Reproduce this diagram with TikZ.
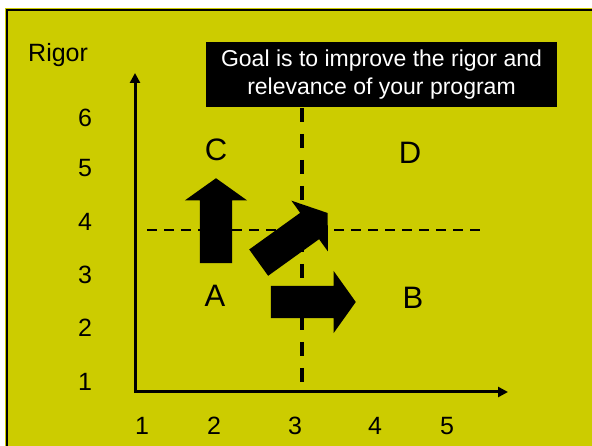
\documentclass[tikz,border=0pt]{standalone}
\usepackage{fontspec}
\setmainfont{Liberation Sans}
\usepackage{tikz}
\usetikzlibrary{arrows.meta,positioning,shapes.arrows}
\definecolor{slideyellow}{RGB}{204,204,0}

\begin{document}
\begin{tikzpicture}[
    x=1pt,
    y=-1pt,
    >={Triangle[length=10pt,width=10pt]},
    ticklabel/.style={
        inner sep=0pt,
        font=\fontsize{25}{30}\selectfont
    },
    quadlabel/.style={
        inner sep=0pt,
        font=\fontsize{31}{36}\selectfont
    },
    blockarrow/.style={
        single arrow,
        fill=black,
        draw=none,
        inner xsep=0pt,
        inner ysep=16pt,
        minimum height=85pt,
        minimum width=62pt,
        single arrow head extend=15pt,
        single arrow tip angle=109
    }
]

\useasboundingbox (0,0) rectangle (592,446);

% Slide background and frame
\fill[slideyellow] (5,8) rectangle (592,446);
\draw[line width=2.5pt] (7,446) -- (7,10) -- (592,10);

% Goal box
\node[
    fill=black,
    text=white,
    minimum width=351pt,
    minimum height=65pt,
    inner sep=0pt,
    align=center,
    font=\fontsize{23}{28}\selectfont
] (goal)
at (381.5,74.5)
{
Goal is to improve the rigor and\\
relevance of your program
};

% Axis name
\node[
    anchor=base west,
    inner sep=0pt,
    font=\fontsize{25}{30}\selectfont
] (rigor)
at (28,62)
{Rigor};

% Tick labels
\foreach \n/\y in {6/118,5/168,4/222,3/275,2/328,1/382}
    \node[ticklabel] (y\n) at (85,\y) {\n};
\foreach \n/\x in {1/142,2/214,3/295,4/375,5/447}
    \node[ticklabel] (x\n) at (\x,426) {\n};

% Axes
\coordinate (origin) at (135,392);
\coordinate (ytop) at (135,73);
\coordinate (xend) at (508,392);
\draw[
    <->,
    line width=3pt
]
(ytop) -- (origin) -- (xend);

% Quadrant dividers
\coordinate (vtop) at (302,108);
\coordinate (vbot) at (302,382);
\coordinate (hleft) at (147,230);
\coordinate (hright) at (487,230);
\draw[
    line width=4pt,
    dash pattern=on 14pt off 12pt
]
(vtop) -- (vbot);
\draw[
    line width=2.7pt,
    dash pattern=on 10pt off 7pt
]
(hleft) -- (hright);

% Quadrants
\node[quadlabel] (qc) at (216,150) {C};
\node[quadlabel] (qd) at (410,153) {D};
\node[quadlabel] (qa) at (215,296) {A};
\node[quadlabel] (qb) at (413,298) {B};

% Block arrows
\node[blockarrow, rotate=90] (uparrow) at (216,226.5) {};
\node[blockarrow, rotate=35.7] (diagarrow) at (288.5,241.2) {};
\node[blockarrow] (rightarrow) at (307.5,302) {};
\end{tikzpicture}
\end{document}
